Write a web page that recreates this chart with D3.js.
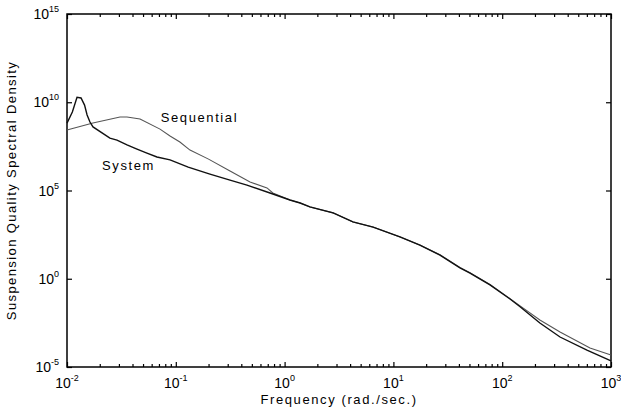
<!DOCTYPE html>
<html>
<head>
<meta charset="utf-8">
<script src="https://cdn.jsdelivr.net/npm/d3@7"></script>
<style>
  body { margin: 0; background: #fff; }
  svg text { font-family: "Liberation Sans", Arial, sans-serif; fill: #000; }
</style>
</head>
<body>
<div id="chart"></div>
<script>
// frequency (rad./sec.) and spectral density
const freqSystem = [0.01, 0.0112, 0.01236, 0.01346, 0.0145, 0.0153, 0.01626, 0.01734, 0.0248, 0.0288,
  0.0356, 0.044, 0.0543, 0.0671, 0.0885, 0.13, 0.206, 0.315, 0.451, 0.734, 1.12, 1.39, 1.71,
  2.79, 4.25, 6.5, 11.5, 17.5, 26.8, 40.9, 50.6, 77.2, 118, 146, 222, 340, 601, 1000];
const densitySystem = [6.6e8, 2.8e9, 1.9e10, 1.74e10, 6.9e9, 1.9e9, 7.6e8, 4.0e8, 9.3e7, 7.2e7,
  3.8e7, 2.2e7, 1.3e7, 7.9e6, 5.4e6, 2.1e6, 8.5e5, 3.9e5, 2.0e5, 7.2e4, 2.9e4, 1.95e4, 1.17e4,
  5.4e3, 1.66e3, 850, 234, 81, 22, 4.1, 2.1, 0.45, 0.071, 0.026, 3.1e-3, 5e-4, 9.1e-5, 2.2e-5];

const freqSequential = [0.01, 0.0173, 0.0307, 0.0356, 0.0469, 0.0716, 0.0885, 0.109, 0.135, 0.2,
  0.315, 0.481, 0.689, 0.78, 1.12, 1.39, 1.71, 2.79, 4.25, 6.5, 11.5, 17.5, 26.8, 40.9, 50.6,
  77.2, 118, 146, 222, 340, 641, 1000];
const densitySequential = [2.7e8, 6.6e8, 1.45e9, 1.45e9, 1.12e9, 3.0e8, 1.23e8, 5.6e7, 1.95e7, 6.0e6,
  1.26e6, 3.0e5, 1.4e5, 7.2e4, 2.9e4, 1.95e4, 1.17e4, 5.4e3, 1.66e3, 850, 234, 81, 23, 4.3, 2.2,
  0.47, 0.075, 0.029, 4.6e-3, 9.5e-4, 1.2e-4, 4.8e-5];

const xTickExps = [-2, -1, 0, 1, 2, 3];
const yTickExps = [-5, 0, 5, 10, 15];

const seriesNames = ["System", "Sequential"];
const labelFreq = [0.021, 0.0727];
const labelDensity = [1.45e6, 7.9e8];

const width = 621;
const height = 413;
const margin = { top: 14, right: 10, bottom: 46, left: 67 };

const svg = d3.select("#chart")
  .append("svg")
  .attr("width", width)
  .attr("height", height);

const x = d3.scaleLog()
  .domain([1e-2, 1e3])
  .range([margin.left, width - margin.right]);

const y = d3.scaleLog()
  .domain([1e-5, 1e15])
  .range([height - margin.bottom, margin.top]);

const majorX = xTickExps.map((e) => Math.pow(10, e));
const minorX = [];
xTickExps.slice(0, -1).forEach((e) => {
  for (let k = 2; k <= 9; k++) minorX.push(k * Math.pow(10, e));
});
const majorY = yTickExps.map((e) => Math.pow(10, e));

const x0 = margin.left, x1 = width - margin.right;
const y0 = height - margin.bottom, y1 = margin.top;

function tickAxis(axis, values, size, transform) {
  const g = svg.append("g")
    .attr("transform", transform)
    .call(axis.tickValues(values).tickSizeInner(size).tickSizeOuter(0).tickFormat(""));
  g.select(".domain").remove();
  g.selectAll("line").attr("stroke", "#000").attr("stroke-width", 1.2);
}

tickAxis(d3.axisBottom(x), majorX, -5, `translate(0,${y0})`);
tickAxis(d3.axisBottom(x), minorX, -3, `translate(0,${y0})`);
tickAxis(d3.axisTop(x), majorX, -5, `translate(0,${y1})`);
tickAxis(d3.axisTop(x), minorX, -3, `translate(0,${y1})`);
tickAxis(d3.axisLeft(y), majorY, -5, `translate(${x0},0)`);
tickAxis(d3.axisRight(y), majorY, -5, `translate(${x1},0)`);

// frame
svg.append("rect")
  .attr("x", x0)
  .attr("y", y1)
  .attr("width", x1 - x0)
  .attr("height", y0 - y1)
  .attr("fill", "none")
  .attr("stroke", "#000")
  .attr("stroke-width", 1.5);

// x tick labels
const xl = svg.append("g").selectAll("text")
  .data(xTickExps)
  .enter()
  .append("text")
  .attr("x", (d) => x(Math.pow(10, d)))
  .attr("y", y0 + 21)
  .attr("text-anchor", "middle")
  .style("font-size", "14px");
xl.append("tspan").text("10");
xl.append("tspan")
  .attr("dy", -7)
  .style("font-size", "9px")
  .text((d) => d);

// y tick labels
const yl = svg.append("g").selectAll("text")
  .data(yTickExps)
  .enter()
  .append("text")
  .attr("x", x0 - 8)
  .attr("y", (d) => y(Math.pow(10, d)) + 5)
  .attr("text-anchor", "end")
  .style("font-size", "14px");
yl.append("tspan").text("10");
yl.append("tspan")
  .attr("dy", -7)
  .style("font-size", "9px")
  .text((d) => d);

// axis titles
svg.append("text")
  .attr("x", (x0 + x1) / 2)
  .attr("y", 404)
  .attr("text-anchor", "middle")
  .style("font-size", "13px")
  .style("letter-spacing", "1.6px")
  .text("Frequency (rad./sec.)");

svg.append("text")
  .attr("transform", `translate(16,${(y0 + y1) / 2}) rotate(-90)`)
  .attr("text-anchor", "middle")
  .style("font-size", "13px")
  .style("letter-spacing", "1.4px")
  .text("Suspension Quality Spectral Density");

const line = d3.line()
  .x((d) => x(d[0]))
  .y((d) => y(d[1]));

svg.append("path")
  .datum(d3.zip(freqSequential, densitySequential))
  .attr("fill", "none")
  .attr("stroke", "#555")
  .attr("stroke-width", 1.1)
  .attr("d", line);

svg.append("path")
  .datum(d3.zip(freqSystem, densitySystem))
  .attr("fill", "none")
  .attr("stroke", "#111")
  .attr("stroke-width", 1.4)
  .attr("d", line);

svg.append("g").selectAll("text")
  .data(seriesNames)
  .enter()
  .append("text")
  .attr("x", (d, i) => x(labelFreq[i]))
  .attr("y", (d, i) => y(labelDensity[i]))
  .style("font-size", "13px")
  .style("letter-spacing", "1.6px")
  .text((d) => d);
</script>
</body>
</html>
